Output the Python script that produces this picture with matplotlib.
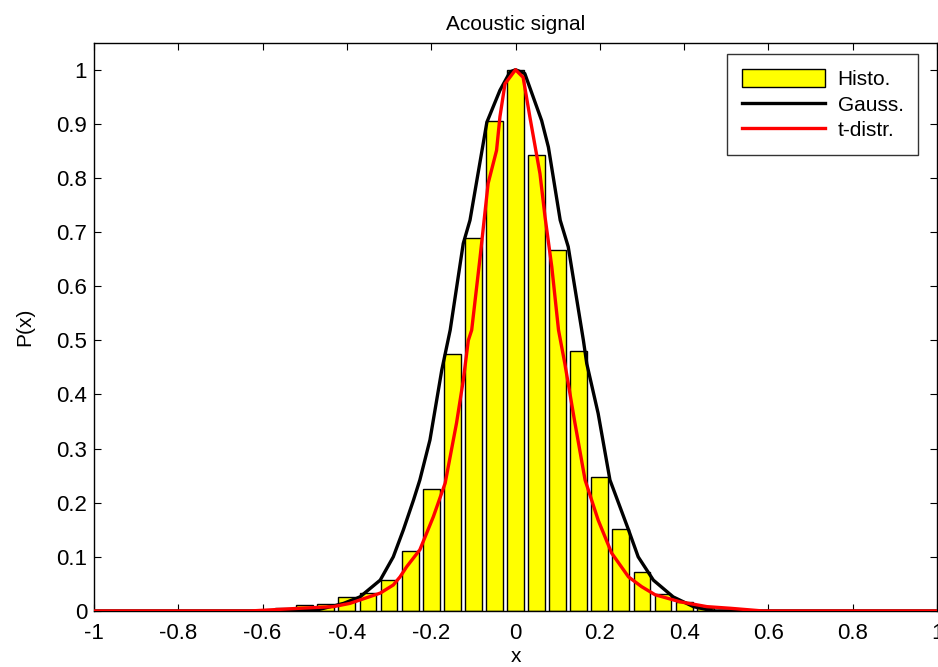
"""
Histogram of an acoustic signal with Gaussian and t-distribution fits.
Values read off the reference picture.
"""
import matplotlib
matplotlib.use('Agg')
import matplotlib.pyplot as plt

plt.rcParams['font.family'] = ['Liberation Sans', 'DejaVu Sans']

# histogram bins (centres) and normalised counts
bin_centres = [-0.55, -0.50, -0.45, -0.40, -0.35, -0.30, -0.25, -0.20, -0.15,
               -0.10, -0.05, 0.00, 0.05, 0.10, 0.15, 0.20, 0.25, 0.30,
               0.35, 0.40, 0.45, 0.50]
histo = [0.006, 0.011, 0.013, 0.026, 0.034, 0.057, 0.111, 0.226, 0.475,
         0.690, 0.905, 1.000, 0.843, 0.667, 0.480, 0.248, 0.151, 0.072,
         0.031, 0.017, 0.006, 0.002]

# Gaussian fit, sampled along x
gauss_x = [-1.0, -0.55, -0.47, -0.408, -0.369, -0.321, -0.290, -0.266,
           -0.242, -0.227, -0.203, -0.175, -0.155, -0.124, -0.108, -0.068,
           -0.037, -0.013, 0.0, 0.022, 0.062, 0.078, 0.106, 0.125, 0.161,
           0.169, 0.196, 0.224, 0.236, 0.268, 0.291, 0.327, 0.374, 0.422,
           0.469, 1.0]
gauss_y = [0.0, 0.0, 0.002, 0.014, 0.026, 0.057, 0.100, 0.150,
           0.205, 0.242, 0.316, 0.445, 0.519, 0.679, 0.722, 0.903,
           0.962, 0.996, 1.0, 0.993, 0.906, 0.857, 0.722, 0.673, 0.500,
           0.457, 0.365, 0.242, 0.217, 0.150, 0.100, 0.057, 0.026, 0.008,
           0.0, 0.0]

# t-distribution fit, sampled along x
tdist_x = [-1.0, -0.63, -0.582, -0.511, -0.432, -0.393, -0.321, -0.290,
           -0.274, -0.258, -0.227, -0.195, -0.167, -0.140, -0.124, -0.112,
           -0.104, -0.084, -0.065, -0.045, -0.037, -0.025, 0.0, 0.018,
           0.034, 0.058, 0.070, 0.086, 0.102, 0.117, 0.141, 0.165, 0.196,
           0.228, 0.268, 0.299, 0.331, 0.390, 0.454, 0.509, 0.587, 1.0]
tdist_y = [0.0, 0.0, 0.002, 0.005, 0.008, 0.014, 0.033, 0.048,
           0.063, 0.082, 0.113, 0.174, 0.236, 0.347, 0.426, 0.500,
           0.519, 0.654, 0.790, 0.851, 0.913, 0.974, 1.0, 0.986,
           0.913, 0.808, 0.728, 0.636, 0.519, 0.457, 0.347, 0.242, 0.168,
           0.107, 0.063, 0.045, 0.030, 0.017, 0.008, 0.005, 0.0, 0.0]

x_ticks = [-1, -0.8, -0.6, -0.4, -0.2, 0, 0.2, 0.4, 0.6, 0.8, 1]
x_tick_labels = ['-1', '-0.8', '-0.6', '-0.4', '-0.2', '0',
                 '0.2', '0.4', '0.6', '0.8', '1']
y_ticks = [0, 0.1, 0.2, 0.3, 0.4, 0.5, 0.6, 0.7, 0.8, 0.9, 1]
y_tick_labels = ['0', '0.1', '0.2', '0.3', '0.4', '0.5',
                 '0.6', '0.7', '0.8', '0.9', '1']


fig = plt.figure(figsize=(9.38, 6.67), dpi=100)
ax = fig.add_axes([0.1002, 0.084, 0.8988, 0.852])

h_bar = ax.bar(bin_centres, histo, width=0.04, color='yellow',
               edgecolor='black', linewidth=1.0, label='Histo.', zorder=2)
h_gauss, = ax.plot(gauss_x, gauss_y, color='black', lw=2.4,
                   label='Gauss.', zorder=3)
h_t, = ax.plot(tdist_x, tdist_y, color='red', lw=2.4,
               label='t-distr.', zorder=4)

ax.set_xlim(-1, 1)
ax.set_ylim(0, 1.05)
ax.set_xticks(x_ticks)
ax.set_xticklabels(x_tick_labels)
ax.set_yticks(y_ticks)
ax.set_yticklabels(y_tick_labels)
ax.tick_params(direction='in', top=True, right=True, labelsize=16,
               length=5, width=0.8)
ax.tick_params(axis='x', pad=9)
ax.tick_params(axis='y', pad=5)
for s in ax.spines.values():
    s.set_linewidth(1.0)

ax.set_title('Acoustic signal', fontsize=15, pad=9)
ax.set_xlabel('x', fontsize=15, labelpad=2)
ax.set_ylabel('P(x)', fontsize=15, labelpad=16)

leg = ax.legend([h_bar, h_gauss, h_t], ['Histo.', 'Gauss.', 't-distr.'],
                loc='upper right', bbox_to_anchor=(0.9775, 0.98),
                fontsize=15, frameon=True, fancybox=False,
                edgecolor='black', handlelength=4.0, handleheight=1.0,
                borderpad=0.7, labelspacing=0.25, handletextpad=0.6,
                borderaxespad=0)
leg.get_frame().set_linewidth(1.0)

fig.savefig('out.png', dpi=100)
